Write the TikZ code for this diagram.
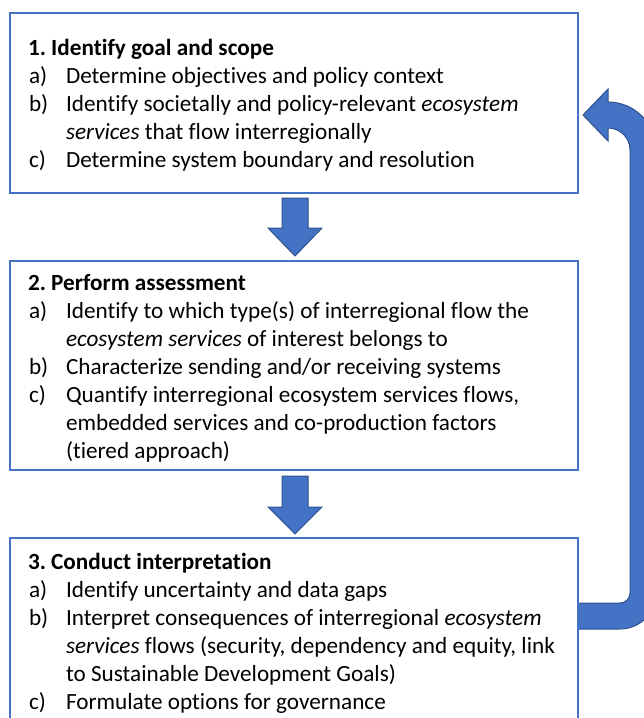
\documentclass[tikz,border=0pt]{standalone}
\usepackage{fontspec}
\setmainfont[Ligatures={NoCommon}]{Carlito}
\definecolor{boxblue}{HTML}{4472C4}
\definecolor{arrowedge}{HTML}{2F528F}
\frenchspacing
\begin{document}
\begin{tikzpicture}[x=1pt,y=-1pt,
  every node/.style={inner sep=0pt, outer sep=0pt},
  txt/.style={anchor=base west, font=\fontsize{23.2}{28}\selectfont},
  ttl/.style={anchor=base west, font=\fontsize{23.2}{28}\selectfont\bfseries},
  stepbox/.style={draw=boxblue, line width=2pt, fill=white, anchor=north west, minimum width=568pt},
  blockarrow/.style={fill=boxblue, draw=arrowedge, line width=1pt, line join=miter}]
\useasboundingbox (0,0) rectangle (644,718);

% loop-back arrow (drawn first, boxes on top)
\draw[blockarrow] (583,115) -- (608,89) -- (608,102)
  .. controls (634.5,102) and (656,123.5) .. (656,150)
  -- (656,593)
  .. controls (656,612.9) and (639.9,629) .. (620,629)
  -- (578,629) -- (578,603) -- (620,603)
  .. controls (625.5,603) and (630,598.5) .. (630,593)
  -- (630,150)
  .. controls (630,137.85) and (620.15,128) .. (608,128)
  -- (608,141) -- cycle;

% boxes
\node[stepbox, minimum height=180pt] (box1) at (10,13) {};
\node[stepbox, minimum height=209pt] (box2) at (10,261) {};
\node[stepbox, minimum height=230pt] (box3) at (10,538) {};

% down arrows
\draw[blockarrow] (282,198) -- (308,198) -- (308,228) -- (322,228) -- (295,256) -- (268,228) -- (282,228) -- cycle;
\draw[blockarrow] (282,476) -- (308,476) -- (308,507) -- (322,507) -- (295,534) -- (268,507) -- (282,507) -- cycle;

% box 1 text
\node[ttl] (t1) at (28,55) {1. Identify goal and scope};
\node[txt] (l1a) at (29,83) {a)};
\node[txt] (i1a) at (66,83) {Determine objectives and policy context};
\node[txt] (l1b) at (29,111) {b)};
\node[txt] (i1b) at (66,111) {Identify societally and policy-relevant \textit{ecosystem}};
\node[txt] (i1b2) at (66,139) {\textit{services} that flow interregionally};
\node[txt] (l1c) at (29,167) {c)};
\node[txt] (i1c) at (66,167) {Determine system boundary and resolution};

% box 2 text
\node[ttl] (t2) at (28,290) {2. Perform assessment};
\node[txt] (l2a) at (29,318) {a)};
\node[txt] (i2a) at (66,318) {Identify to which type(s) of interregional flow the};
\node[txt] (i2a2) at (66,346) {\textit{ecosystem services} of interest belongs to};
\node[txt] (l2b) at (29,374) {b)};
\node[txt] (i2b) at (66,374) {Characterize sending and/or receiving systems};
\node[txt] (l2c) at (29,402) {c)};
\node[txt] (i2c) at (66,402) {Quantify interregional ecosystem services flows,};
\node[txt] (i2c2) at (66,430) {embedded services and co-production factors};
\node[txt] (i2c3) at (66,458) {(tiered approach)};

% box 3 text
\node[ttl] (t3) at (28,569) {3. Conduct interpretation};
\node[txt] (l3a) at (29,597) {a)};
\node[txt] (i3a) at (66,597) {Identify uncertainty and data gaps};
\node[txt] (l3b) at (29,625) {b)};
\node[txt] (i3b) at (66,625) {Interpret consequences of interregional \textit{ecosystem}};
\node[txt] (i3b2) at (66,653) {\textit{services} flows (security, dependency and equity, link};
\node[txt] (i3b3) at (66,681) {to Sustainable Development Goals)};
\node[txt] (l3c) at (29,709) {c)};
\node[txt] (i3c) at (66,709) {Formulate options for governance};
\end{tikzpicture}
\end{document}
